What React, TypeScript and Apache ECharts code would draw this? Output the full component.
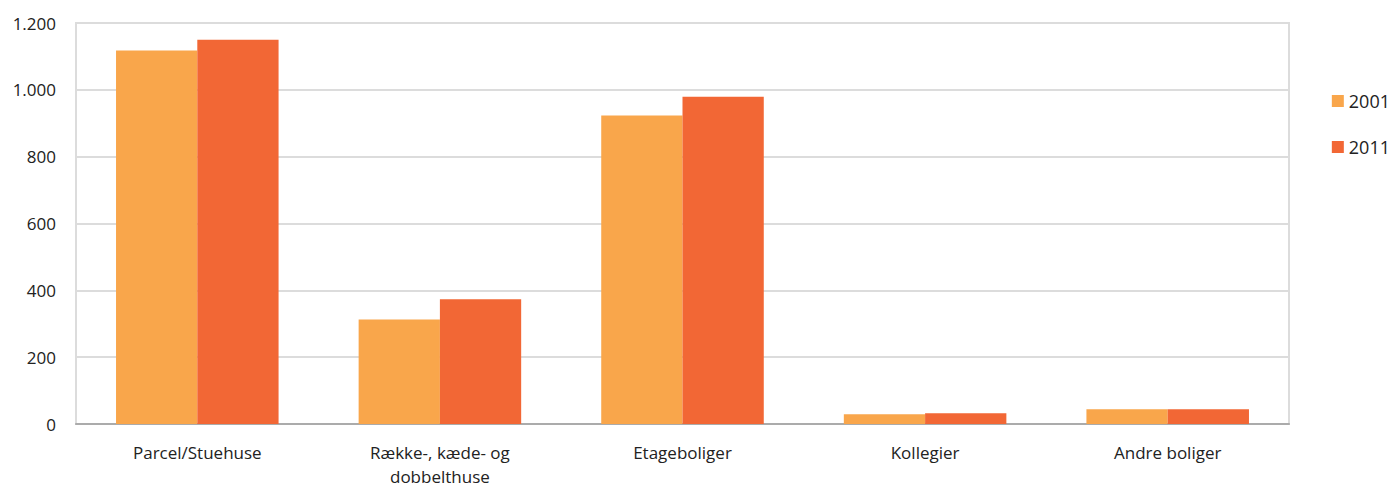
import React, { useEffect, useRef } from "react";
import * as echarts from "echarts";

const categories = ["Parcel/Stuehuse", "Række-, kæde- og\ndobbelthuse", "Etageboliger", "Kollegier", "Andre boliger"];
const series2001 = [1118, 313, 923, 29, 44];
const series2011 = [1150, 373, 979, 32, 44];
const seriesNames = ["2001", "2011"];
const colors = ["#F9A64B", "#F26735"];

export default function App() {
  const ref = useRef<HTMLDivElement>(null);
  useEffect(() => {
    const chart = echarts.init(ref.current!, null, { renderer: "svg" });
    const font = "'Open Sans', 'Noto Sans', sans-serif";
    chart.setOption({
      animation: false,
      textStyle: { fontFamily: font },
      grid: { left: 76, right: 102, top: 23, bottom: 58, show: true, borderColor: "#dcdcdc", borderWidth: 2 },
      legend: {
        orient: "vertical",
        right: -4,
        top: 87,
        itemWidth: 12,
        itemHeight: 12,
        itemGap: 28,
        icon: "rect",
        textStyle: { fontSize: 18, color: "#222", fontFamily: font, padding: [0, 0, 0, 0] },
        data: seriesNames,
      },
      xAxis: {
        type: "category",
        data: categories,
        axisLine: { lineStyle: { color: "#ababab", width: 2 } },
        axisTick: { show: false },
        axisLabel: { fontSize: 17, color: "#222", margin: 16, lineHeight: 24, fontFamily: font },
      },
      yAxis: {
        type: "value",
        min: 0,
        max: 1200,
        interval: 200,
        axisLine: { show: false },
        axisTick: { show: false },
        splitLine: { lineStyle: { color: "#dcdcdc", width: 2 } },
        axisLabel: {
          fontSize: 17,
          color: "#222",
          margin: 20,
          fontFamily: font,
          formatter: (v: number) => v.toLocaleString("de-DE"),
        },
      },
      series: [
        { name: seriesNames[0], type: "bar", data: series2001, itemStyle: { color: colors[0] }, barGap: "0%", barCategoryGap: "33%" },
        { name: seriesNames[1], type: "bar", data: series2011, itemStyle: { color: colors[1] }, barGap: "0%", barCategoryGap: "33%" },
      ],
    });
    return () => chart.dispose();
  }, []);
  return <div ref={ref} style={{ width: 1391, height: 488, position: "absolute", left: 0, top: 0 }} />;
}
